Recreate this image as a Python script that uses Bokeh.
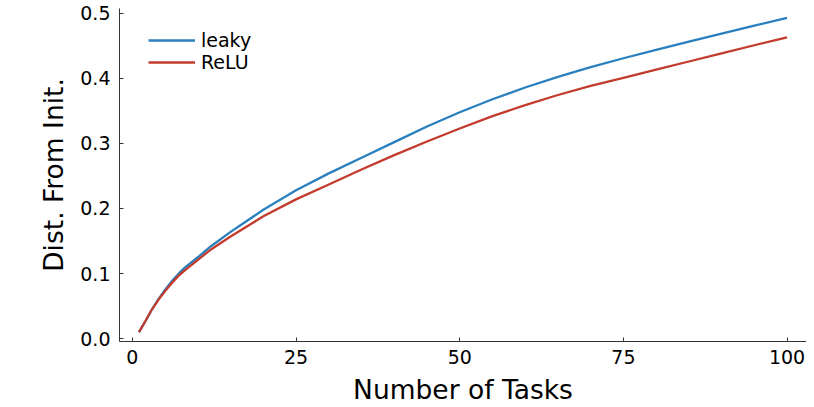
from bokeh.plotting import figure
from bokeh.models import Range1d, FixedTicker, NumeralTickFormatter, Legend, LegendItem
from bokeh.embed import file_html
from bokeh.resources import INLINE

# Data
tasks = [1, 2, 3, 4, 5, 6, 7, 8, 10, 12, 15, 20, 25, 30, 35, 40, 45, 50,
         55, 60, 65, 70, 75, 80, 85, 90, 95, 100]
leaky = [0.010, 0.027, 0.045, 0.061, 0.075, 0.088, 0.099, 0.109, 0.125, 0.142,
         0.164, 0.198, 0.228, 0.254, 0.278, 0.302, 0.326, 0.348, 0.368, 0.386,
         0.4025, 0.4175, 0.431, 0.444, 0.4565, 0.469, 0.481, 0.493]
relu = [0.010, 0.027, 0.045, 0.060, 0.073, 0.085, 0.096, 0.105, 0.121, 0.137,
        0.157, 0.188, 0.214, 0.237, 0.260, 0.282, 0.303, 0.323, 0.342, 0.359,
        0.3745, 0.3885, 0.401, 0.4135, 0.426, 0.4385, 0.451, 0.463]
x_ticks = [0, 25, 50, 75, 100]
y_ticks = [0.0, 0.1, 0.2, 0.3, 0.4, 0.5]
series_names = ["leaky", "ReLU"]
colors = ["#2a80bf", "#c23b2c"]

FONT = "DejaVu Sans"

p = figure(width=806, height=407, output_backend="svg", toolbar_location=None,
           x_range=Range1d(-1.97, 102.97), y_range=Range1d(-0.0045, 0.5075),
           min_border_left=119, min_border_right=0, min_border_top=8,
           min_border_bottom=65)

p.grid.visible = False
p.outline_line_color = None
p.background_fill_color = "white"
p.border_fill_color = "white"

r1 = p.line(tasks, leaky, line_color=colors[0], line_width=2.3)
r2 = p.line(tasks, relu, line_color=colors[1], line_width=2.3)

for ax in (p.xaxis[0], p.yaxis[0]):
    ax.major_tick_in = 4
    ax.major_tick_out = 0
    ax.minor_tick_line_color = None
    ax.axis_line_color = "#333333"
    ax.major_tick_line_color = "#333333"
    ax.major_label_text_font = FONT
    ax.major_label_text_font_size = "19px"
    ax.major_label_text_color = "black"
    ax.axis_label_text_font = FONT
    ax.axis_label_text_font_size = "26.5px"
    ax.axis_label_text_font_style = "normal"
    ax.axis_label_text_color = "black"

p.xaxis[0].ticker = FixedTicker(ticks=x_ticks)
p.yaxis[0].ticker = FixedTicker(ticks=y_ticks)
p.yaxis[0].formatter = NumeralTickFormatter(format="0.0")
p.xaxis[0].axis_label = "Number of Tasks"
p.yaxis[0].axis_label = "Dist. From Init."
p.xaxis[0].major_label_standoff = 8
p.yaxis[0].major_label_standoff = 9
p.xaxis[0].axis_label_standoff = 7
p.yaxis[0].axis_label_standoff = 8

legend = Legend(items=[LegendItem(label=series_names[0], renderers=[r1]),
                       LegendItem(label=series_names[1], renderers=[r2])],
                location=(29, 268), border_line_color=None,
                background_fill_alpha=0, padding=0, margin=0, spacing=0,
                glyph_width=47, glyph_height=20, label_height=20,
                label_standoff=6, label_text_font=FONT,
                label_text_font_size="19px", label_text_color="black")
p.add_layout(legend)

open("out.html", "w").write(file_html(p, INLINE))
